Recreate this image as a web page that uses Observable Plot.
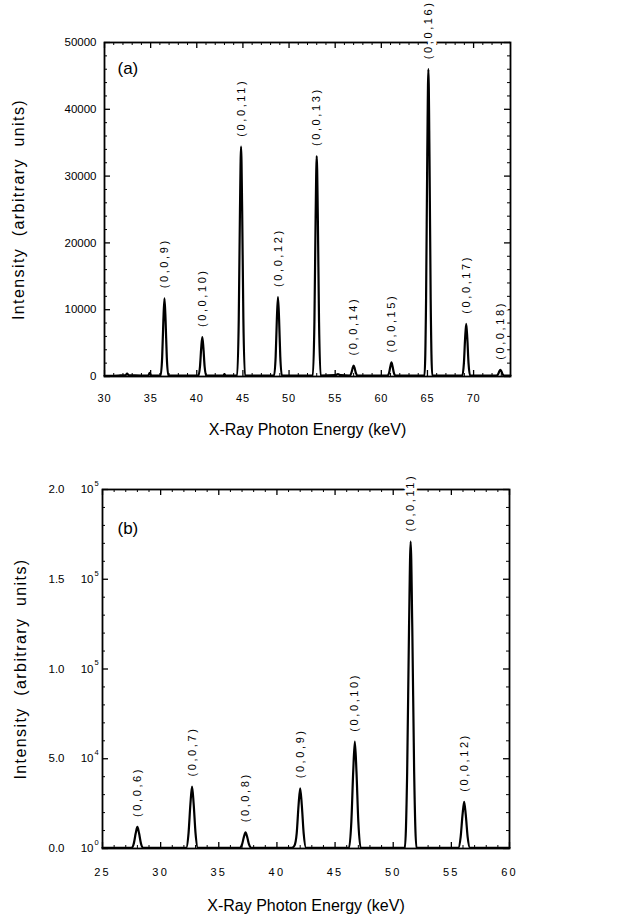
<!DOCTYPE html>
<html>
<head>
<meta charset="utf-8">
<script src="https://cdn.jsdelivr.net/npm/d3@7"></script>
<script src="https://cdn.jsdelivr.net/npm/@observablehq/plot@0.6"></script>
<style>
  body { margin: 0; background: #fff; }
  #chart { width: 643px; }
  #chart svg { display: block; }
</style>
</head>
<body>
<div id="chart"></div>
<script>
// ---------- Panel (a): spectrum 30–74 keV ----------
const energyA = [
  30.0, 31.5, 32.3, 32.45, 32.6, 34.0, 34.75, 34.9, 35.05,
  36.08, 36.25, 36.38, 36.5, 36.62, 36.75, 36.92,
  40.18, 40.35, 40.48, 40.6, 40.72, 40.85, 41.02,
  42.9, 43.0, 43.1,
  44.38, 44.55, 44.68, 44.8, 44.92, 45.05, 45.22,
  48.38, 48.55, 48.68, 48.8, 48.92, 49.05, 49.22,
  52.58, 52.75, 52.88, 53.0, 53.12, 53.25, 53.42,
  55.0, 55.3, 55.6,
  56.58, 56.75, 56.88, 57.0, 57.12, 57.25, 57.42,
  60.68, 60.85, 60.98, 61.1, 61.22, 61.35, 61.52,
  64.68, 64.85, 64.98, 65.1, 65.22, 65.35, 65.52,
  68.78, 68.95, 69.08, 69.2, 69.32, 69.45, 69.62,
  72.48, 72.65, 72.78, 72.9, 73.02, 73.15, 73.32,
  74.0
];
const countsA = [
  100, 150, 200, 450, 200, 150, 180, 550, 180,
  150, 2900, 8400, 11700, 8400, 2900, 150,
  150, 1500, 4250, 5900, 4250, 1500, 150,
  150, 350, 150,
  150, 8600, 24800, 34400, 24800, 8600, 150,
  150, 3000, 8600, 11900, 8600, 3000, 150,
  150, 8250, 23800, 33000, 23800, 8250, 150,
  200, 350, 200,
  150, 500, 1200, 1650, 1200, 500, 150,
  150, 600, 1500, 2100, 1500, 600, 150,
  150, 11500, 33100, 46000, 33100, 11500, 150,
  150, 2000, 5700, 7900, 5700, 2000, 150,
  150, 330, 750, 1000, 750, 330, 150,
  150
];
const peakEA = [36.5, 40.6, 44.8, 48.8, 53.0, 57.0, 61.1, 65.1, 69.2, 72.9];
const peakIA = [11700, 5900, 34400, 11900, 33000, 1650, 2100, 46000, 7900, 1000];
const hklA = ["(0,0,9)", "(0,0,10)", "(0,0,11)", "(0,0,12)", "(0,0,13)",
              "(0,0,14)", "(0,0,15)", "(0,0,16)", "(0,0,17)", "(0,0,18)"];
const xTicksA = [30, 35, 40, 45, 50, 55, 60, 65, 70];
const yTicksA = [0, 10000, 20000, 30000, 40000, 50000];
const yTickTextA = ["0", "10000", "20000", "30000", "40000", "50000"];

// ---------- Panel (b): spectrum 25–60 keV ----------
const energyB = [
  25.0,
  27.5, 27.7, 27.86, 28.0, 28.14, 28.3, 28.5,
  32.2, 32.4, 32.56, 32.7, 32.84, 33.0, 33.2,
  36.8, 37.0, 37.16, 37.3, 37.44, 37.6, 37.8,
  41.3, 41.5, 41.7, 41.86, 42.0, 42.14, 42.3, 42.5,
  46.2, 46.4, 46.56, 46.7, 46.84, 47.0, 47.2,
  51.0, 51.2, 51.36, 51.5, 51.64, 51.8, 52.0,
  55.6, 55.8, 55.96, 56.1, 56.24, 56.4, 56.6,
  60.0
];
const countsB = [
  400,
  400, 3000, 8600, 12000, 8600, 3000, 400,
  400, 8600, 24800, 34500, 24800, 8600, 400,
  400, 2250, 6500, 9000, 6500, 2250, 400,
  400, 1500, 8400, 24100, 33500, 24100, 8400, 400,
  400, 14900, 42800, 59500, 42800, 14900, 400,
  400, 42700, 123000, 171000, 123000, 42700, 400,
  400, 6500, 18700, 26000, 18700, 6500, 400,
  400
];
const peakEB = [28.0, 32.7, 37.3, 42.0, 46.7, 51.5, 56.1];
const peakIB = [12000, 34500, 9000, 33500, 59500, 171000, 26000];
const hklB = ["(0,0,6)", "(0,0,7)", "(0,0,8)", "(0,0,9)", "(0,0,10)", "(0,0,11)", "(0,0,12)"];
const xTicksB = [25, 30, 35, 40, 45, 50, 55, 60];
const yTicksB = [0, 50000, 100000, 150000, 200000];
const yMantissaB = ["0.0", "5.0", "1.0", "1.5", "2.0"];
const yExponentB = ["0", "4", "5", "5", "5"];

const FONT = "'Liberation Sans', Arial, Helvetica, sans-serif";
const TITLE_Y = "Intensity\u00a0\u00a0(arbitrary\u00a0\u00a0units)";
const TITLE_X = "X-Ray Photon Energy (keV)";

// Shared panel builder: boxed frame with inward ticks on all four sides,
// spectrum line, rotated reflection labels above each peak.
function panel(o) {
  const fw = 643 - o.ml - o.mr;
  const fh = o.h - o.mt - o.mb;
  const MAJ = 6, MIN = 3;
  const xTickText = o.xTicks.map(String);
  const marks = [
    Plot.frame({stroke: "black", strokeWidth: 1.8}),
    Plot.tickX(o.xTicks, {x: d => d, insetTop: fh - MAJ, strokeWidth: 1.3}),
    Plot.tickX(o.xTicks, {x: d => d, insetBottom: fh - MAJ, strokeWidth: 1.3}),
    Plot.tickX(o.xMinor, {x: d => d, insetTop: fh - MIN, strokeWidth: 1}),
    Plot.tickX(o.xMinor, {x: d => d, insetBottom: fh - MIN, strokeWidth: 1}),
    Plot.tickY(o.yTicks, {y: d => d, insetRight: fw - MAJ, strokeWidth: 1.3}),
    Plot.tickY(o.yTicks, {y: d => d, insetLeft: fw - MAJ, strokeWidth: 1.3}),
    Plot.tickY(o.yMinor, {y: d => d, insetRight: fw - MIN, strokeWidth: 1}),
    Plot.tickY(o.yMinor, {y: d => d, insetLeft: fw - MIN, strokeWidth: 1}),
    Plot.line(o.energy, {x: o.energy, y: o.counts, curve: "monotone-x",
      stroke: "black", strokeWidth: 2.2, strokeLinejoin: "round"}),
    // reflection labels; the wide white halo opens the frame where a label crosses it
    Plot.text(o.hkl, {x: o.peakE, y: o.peakI, text: d => d, rotate: -90,
      textAnchor: "start", lineAnchor: "middle", dy: -10, fontSize: 11,
      fill: "black", stroke: "white", strokeWidth: 6}),
    Plot.text(xTickText, {x: o.xTicks, text: d => d, frameAnchor: "bottom",
      lineAnchor: "middle", dy: o.xTickDy, fontSize: 11, fill: "black"}),
    Plot.text([o.tag], {frameAnchor: "top-left", dx: o.tagDx, dy: o.tagDy,
      textAnchor: "start", lineAnchor: "middle", fontSize: 17, fill: "black"}),
    Plot.text([TITLE_Y], {frameAnchor: "left", dx: o.titleYDx, rotate: -90,
      textAnchor: "middle", lineAnchor: "middle", fontSize: 16, fill: "black"}),
    Plot.text([TITLE_X], {frameAnchor: "bottom", dy: o.titleXDy,
      textAnchor: "middle", lineAnchor: "middle", fontSize: 16, fill: "black"}),
    ...o.yLabelMarks
  ];
  const svg = Plot.plot({
    width: 643, height: o.h,
    marginLeft: o.ml, marginRight: o.mr, marginTop: o.mt, marginBottom: o.mb,
    x: {domain: o.xDomain, axis: null},
    y: {domain: o.yDomain, axis: null},
    style: {fontFamily: FONT, background: "white", color: "black", overflow: "visible"},
    marks
  });
  // letter spacing of the typewriter-like labels
  d3.select(svg).selectAll("text").each(function () {
    const t = this.textContent;
    if (o.hkl.includes(t)) this.setAttribute("letter-spacing", "2.6");
    else if (xTickText.includes(t)) this.setAttribute("letter-spacing", o.xTickSpacing);
    else if (t === TITLE_Y) this.setAttribute("letter-spacing", "1.4");
  });
  return svg;
}

const svgA = panel({
  h: 450, ml: 104, mr: 133, mt: 42, mb: 74,
  xDomain: [30, 74], yDomain: [0, 50000],
  energy: energyA, counts: countsA,
  peakE: peakEA, peakI: peakIA, hkl: hklA,
  xTicks: xTicksA, xMinor: d3.range(31, 74).filter(v => v % 5 !== 0),
  yTicks: yTicksA, yMinor: d3.range(2000, 50000, 2000).filter(v => v % 10000 !== 0),
  xTickDy: 22, xTickSpacing: "0.8",
  tag: "(a)", tagDx: 13, tagDy: 26,
  titleYDx: -86, titleXDy: 53,
  yLabelMarks: [
    Plot.text(yTicksA, {y: d => d, text: (d, i) => yTickTextA[i], frameAnchor: "left",
      dx: -8, textAnchor: "end", lineAnchor: "middle", fontSize: 11.5, fill: "black"})
  ]
});

const svgB = panel({
  h: 466, ml: 102, mr: 134, mt: 39, mb: 68,
  xDomain: [25, 60], yDomain: [0, 200000],
  energy: energyB, counts: countsB,
  peakE: peakEB, peakI: peakIB, hkl: hklB,
  xTicks: xTicksB, xMinor: d3.range(26, 60).filter(v => v % 5 !== 0),
  yTicks: yTicksB, yMinor: d3.range(10000, 200000, 10000).filter(v => v % 50000 !== 0),
  xTickDy: 24, xTickSpacing: "2.2",
  tag: "(b)", tagDx: 15, tagDy: 39,
  titleYDx: -82, titleXDy: 57,
  yLabelMarks: [
    Plot.text(yTicksB, {y: d => d, text: (d, i) => yMantissaB[i], frameAnchor: "left",
      dx: -38, textAnchor: "end", lineAnchor: "middle", fontSize: 11.5, fill: "black"}),
    Plot.text(yTicksB, {y: d => d, text: () => "10", frameAnchor: "left",
      dx: -9, textAnchor: "end", lineAnchor: "middle", fontSize: 11.5, fill: "black"}),
    Plot.text(yTicksB, {y: d => d, text: (d, i) => yExponentB[i], frameAnchor: "left",
      dx: -8, dy: -6, textAnchor: "start", lineAnchor: "middle", fontSize: 7.5, fill: "black"})
  ]
});

document.getElementById("chart").append(svgA, svgB);
</script>
</body>
</html>
